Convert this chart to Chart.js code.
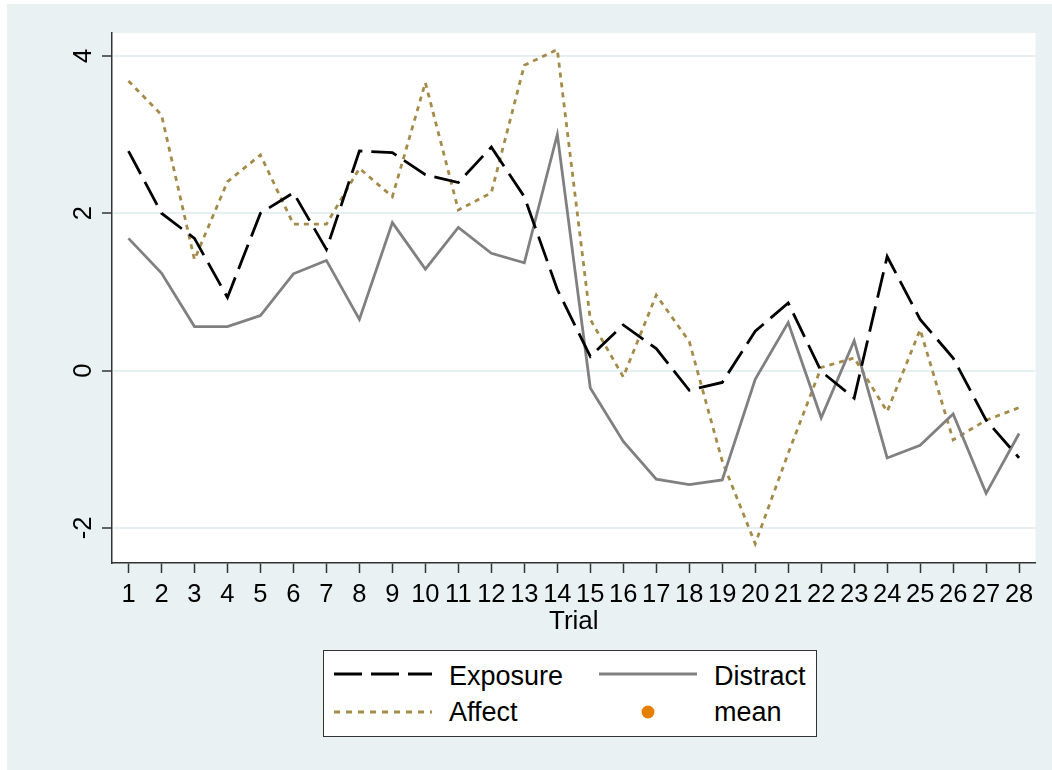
<!DOCTYPE html>
<html>
<head>
<meta charset="utf-8">
<script src="https://cdn.jsdelivr.net/npm/chart.js@4.4.1/dist/chart.umd.min.js"></script>
<style>
    body { margin: 0; background: #ffffff; font-family: "Liberation Sans", Arial, sans-serif; }
    #bg { position: absolute; left: 7px; top: 4px; width: 1045px; height: 766px; background: #eaf1f3; }
    #wrap { position: absolute; left: 0; top: 0; width: 1052px; height: 770px; }
    #legend { position: absolute; left: 323px; top: 650px; }
</style>
</head>
<body>
<div id="bg"></div>
<div id="wrap"><canvas id="chart" width="1052" height="770"></canvas></div>
<svg id="legend" width="495" height="88" xmlns="http://www.w3.org/2000/svg">
    <rect x="0.5" y="0.5" width="493" height="86" fill="#ffffff" stroke="#333333" stroke-width="1"/>
    <line x1="11" y1="24" x2="109" y2="24" stroke="#000000" stroke-width="2.8" stroke-dasharray="28 9"/>
    <text x="126" y="26" font-size="27" font-family="Liberation Sans, Arial" dominant-baseline="central">Exposure</text>
    <line x1="276" y1="24" x2="374" y2="24" stroke="#808080" stroke-width="2.8"/>
    <text x="391" y="26" font-size="27" font-family="Liberation Sans, Arial" dominant-baseline="central">Distract</text>
    <line x1="11" y1="62" x2="109" y2="62" stroke="#a58b4a" stroke-width="2.8" stroke-dasharray="6 6"/>
    <text x="126" y="62" font-size="27" font-family="Liberation Sans, Arial" dominant-baseline="central">Affect</text>
    <circle cx="325" cy="62" r="6.5" fill="#e57f00"/>
    <text x="391" y="62" font-size="27" font-family="Liberation Sans, Arial" dominant-baseline="central">mean</text>
</svg>
<script>
'use strict';

// data
const trials = ['1', '2', '3', '4', '5', '6', '7', '8', '9', '10', '11', '12', '13', '14',
    '15', '16', '17', '18', '19', '20', '21', '22', '23', '24', '25', '26', '27', '28'];
const exposure = [2.79, 2.00, 1.68, 0.93, 2.00, 2.26, 1.54, 2.79, 2.77, 2.49, 2.39, 2.84, 2.21, 1.03,
    0.18, 0.58, 0.28, -0.25, -0.15, 0.50, 0.86, -0.01, -0.35, 1.45, 0.65, 0.16, -0.63, -1.11];
const distract = [1.68, 1.24, 0.56, 0.56, 0.70, 1.23, 1.40, 0.65, 1.88, 1.29, 1.82, 1.49, 1.37, 3.00,
    -0.22, -0.90, -1.38, -1.45, -1.39, -0.11, 0.61, -0.60, 0.38, -1.11, -0.95, -0.55, -1.56, -0.80];
const affect = [3.68, 3.25, 1.41, 2.40, 2.74, 1.86, 1.86, 2.57, 2.21, 3.66, 2.04, 2.26, 3.88, 4.08,
    0.65, -0.08, 0.96, 0.37, -1.15, -2.20, -1.05, 0.04, 0.16, -0.52, 0.52, -0.88, -0.63, -0.47];
const yTicks = [-2, 0, 2, 4];

const FONT = '"Liberation Sans", Arial, sans-serif';

// white plot region on the grey-blue page
const plotBackground = {
    id: 'plotBackground',
    beforeDraw(chart) {
        const { ctx, chartArea: a } = chart;
        ctx.save();
        ctx.fillStyle = '#ffffff';
        ctx.fillRect(a.left, a.top, a.right - a.left, a.bottom - a.top);
        ctx.restore();
    }
};

const lineSet = (label, data, color, dash) => ({
    label,
    data,
    borderColor: color,
    borderWidth: 2.8,
    borderDash: dash,
    pointRadius: 0,
    tension: 0,
    fill: false
});

new Chart(document.getElementById('chart'), {
    type: 'line',
    data: {
        labels: trials,
        datasets: [
            lineSet('Exposure', exposure, '#000000', [26, 9]),
            lineSet('Distract', distract, '#808080', []),
            lineSet('Affect', affect, '#a58b4a', [5, 5])
        ]
    },
    options: {
        responsive: false,
        animation: false,
        layout: { padding: { left: 0, top: 33, right: 16.4, bottom: 130 } },
        plugins: {
            legend: { display: false },
            tooltip: { enabled: false }
        },
        scales: {
            x: {
                type: 'category',
                offset: true,
                grid: {
                    drawOnChartArea: false,
                    tickLength: 10,
                    tickColor: '#333333',
                    tickWidth: 1.5
                },
                border: { color: '#333333', width: 1.5 },
                ticks: {
                    color: '#000000',
                    font: { family: FONT, size: 25.5 },
                    padding: 7,
                    maxRotation: 0,
                    autoSkip: false
                },
                title: {
                    display: true,
                    text: 'Trial',
                    color: '#000000',
                    font: { family: FONT, size: 26 },
                    padding: { top: 0, bottom: 3 }
                },
                afterFit(scale) { scale.height = 77; }
            },
            y: {
                min: -2.445,
                max: 4.29,
                afterBuildTicks(scale) { scale.ticks = yTicks.map(v => ({ value: v })); },
                grid: {
                    color: '#e6eff1',
                    lineWidth: 2,
                    tickLength: 10,
                    tickColor: '#333333',
                    tickWidth: 1.5
                },
                border: { color: '#333333', width: 1.5 },
                ticks: {
                    color: '#000000',
                    font: { family: FONT, size: 25.5 },
                    minRotation: 90,
                    maxRotation: 90,
                    crossAlign: 'center',
                    padding: 7
                },
                afterFit(scale) { scale.width = 112; }
            }
        }
    },
    plugins: [plotBackground]
});
</script>
</body>
</html>
